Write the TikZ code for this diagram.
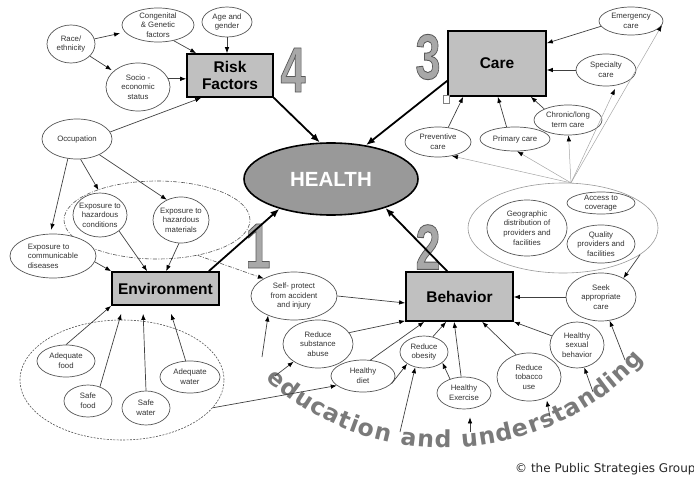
\documentclass[tikz,border=0pt]{standalone}
\usepackage{fontspec}
\setmainfont{Liberation Sans}
\newfontfamily\djv{DejaVu Sans}
\usetikzlibrary{shapes.geometric, arrows.meta, calc, decorations.text}
\definecolor{boxgray}{HTML}{C0C0C0}
\definecolor{healthgray}{HTML}{999999}
\definecolor{ovaltext}{HTML}{333333}
\definecolor{ovalline}{HTML}{555555}
\definecolor{digitgray}{HTML}{A8A8A8}
\definecolor{edugray}{HTML}{7A7A7A}
\newcommand\outlinedigit[1]{\special{pdf:literal q 2 Tr 0.9 w 0.35 0.35 0.35 RG}#1\special{pdf:literal Q}}
\begin{document}
\begin{tikzpicture}[x=1pt,y=-1pt,
  oval/.style={ellipse, draw=ovalline, line width=0.7pt, fill=white, inner sep=-2pt,
    align=center, font=\fontsize{7.8}{9.6}\selectfont, text=ovaltext},
  box/.style={rectangle, draw=black, line width=1.7pt, fill=boxgray, inner sep=0pt,
    align=center, font=\fontsize{15.5}{17}\selectfont\bfseries},
  bigoval/.style={ellipse, draw=black, line width=1.6pt, fill=healthgray, inner sep=0pt,
    font=\fontsize{20.5}{22}\selectfont\bfseries, text=white},
  lightoval/.style={ellipse, draw=black!40, line width=0.6pt, inner sep=0pt},
  dashdotoval/.style={ellipse, draw=ovalline, line width=0.6pt, inner sep=0pt,
    dash pattern=on 4pt off 1.5pt on 1pt off 1.5pt},
  dashedoval/.style={ellipse, draw=ovalline, line width=0.6pt, inner sep=0pt,
    dash pattern=on 2pt off 1.3pt},
  arr/.style={draw=black!75, line width=0.7pt, -{Latex[length=6pt,width=4.5pt,color=black]}},
  heavy/.style={draw=black, line width=1.8pt, -{Latex[length=9pt,width=7pt]}},
  lite/.style={draw=black!35, line width=0.5pt, -{Latex[length=6pt,width=4.5pt,color=black]}},
  dashdotarr/.style={draw=ovalline, line width=0.6pt, dash pattern=on 4pt off 1.5pt on 1pt off 1.5pt,
    -{Latex[length=6pt,width=4.5pt,color=black]}},
  bigdigit/.style={font=\fontsize{64}{64}\selectfont\bfseries, text=digitgray, inner sep=0pt}
]
\useasboundingbox (0,0) rectangle (694,479);

% big digits
\node[bigdigit] (d4) at (293,70) {\scalebox{0.7}[1]{\outlinedigit{4}}};
\node[bigdigit] (d3) at (428,57) {\scalebox{0.7}[1]{\outlinedigit{3}}};
\node[bigdigit] (d2) at (428,247) {\scalebox{0.7}[1]{\outlinedigit{2}}};
\node[bigdigit] (d1) at (258,246) {\scalebox{0.7}[1]{\outlinedigit{1}}};

% containers
\node[dashdotoval, minimum width=186, minimum height=78] (haz) at (157,220) {};
\node[dashedoval, minimum width=204, minimum height=120] (fw) at (122,380) {};
\node[lightoval, minimum width=190, minimum height=90] (access) at (563,228) {};

% risk factors
\node[oval, minimum width=48, minimum height=38] (race) at (71,44) {Race/\\ethnicity};
\node[oval, minimum width=72, minimum height=34, inner sep=-3pt] (cong) at (158,25) {Congenital\\\& Genetic\\factors};
\node[oval, minimum width=50, minimum height=30] (age) at (227,22) {Age and\\gender};
\node[oval, minimum width=64, minimum height=48] (socio) at (138,87) {Socio -\\economic\\status};
\node[oval, minimum width=70, minimum height=40] (occ) at (77,139) {Occupation};
\node[box, minimum width=86, minimum height=43] (risk) at (230,75.5) {Risk\\Factors};

% health
\node[bigoval, minimum width=174, minimum height=72] (health) at (331,179) {HEALTH};

% care
\node[box, minimum width=98, minimum height=65] (care) at (497,63.5) {Care};
\node[draw=black!50, line width=0.5pt, fill=white, minimum width=6, minimum height=8, inner sep=0pt] (sq) at (446,99) {};
\node[oval, minimum width=64, minimum height=28] (emerg) at (631,21) {Emergency\\care};
\node[oval, minimum width=60, minimum height=32] (spec) at (606,70) {Specialty\\care};
\node[oval, minimum width=68, minimum height=30] (chron) at (568,120) {Chronic/long\\term care};
\node[oval, minimum width=70, minimum height=24] (prim) at (515,139) {Primary care};
\node[oval, minimum width=66, minimum height=30] (prev) at (438,142) {Preventive\\care};
\node[oval, minimum width=80, minimum height=56] (geo) at (527,228) {Geographic\\distribution of\\providers and\\facilities};
\node[oval, minimum width=68, minimum height=22] (cov) at (601,203) {Access to\\coverage};
\node[oval, minimum width=68, minimum height=38] (qual) at (601,244) {Quality\\providers and\\facilities};

% behavior
\node[oval, minimum width=70, minimum height=48] (seek) at (601,297) {Seek\\appropriate\\care};
\node[box, minimum width=107, minimum height=49] (behav) at (459.5,296.5) {Behavior};
\node[oval, minimum width=86, minimum height=48] (selfp) at (294,296) {Self- protect\\from accident\\and injury};
\node[oval, minimum width=70, minimum height=48] (subst) at (318,344) {Reduce\\substance\\abuse};
\node[oval, minimum width=64, minimum height=32] (diet) at (363,376) {Healthy\\diet};
\node[oval, minimum width=48, minimum height=32] (obes) at (424,352) {Reduce\\obesity};
\node[oval, minimum width=54, minimum height=32] (exer) at (464,393) {Healthy\\Exercise};
\node[oval, minimum width=64, minimum height=48] (tobac) at (529,377) {Reduce\\tobacco\\use};
\node[oval, minimum width=54, minimum height=46] (sexual) at (577,345) {Healthy\\sexual\\behavior};

% environment
\node[box, minimum width=107, minimum height=33] (env) at (165.5,288.5) {Environment};
\node[oval, minimum width=86, minimum height=44, align=left] (comm) at (53,256) {Exposure to\\communicable\\diseases};
\node[oval, minimum width=54, minimum height=44] (hazc) at (100,215) {Exposure to\\hazardous\\conditions};
\node[oval, minimum width=56, minimum height=46] (hazm) at (181,220) {Exposure to\\hazardous\\materials};
\node[oval, minimum width=58, minimum height=32] (adfood) at (66,361) {Adequate\\food};
\node[oval, minimum width=48, minimum height=32] (sfood) at (88,401) {Safe\\food};
\node[oval, minimum width=48, minimum height=34] (swater) at (146,408) {Safe\\water};
\node[oval, minimum width=60, minimum height=32] (adwater) at (190,377) {Adequate\\water};

% education text
\begin{scope}[x=1pt,y=1pt]
\path[decorate, decoration={text along path, text align={fit to path},
  text={|\djv\bfseries\fontsize{23.5}{25}\selectfont\color{edugray}|education and understanding}}]
  (445,-180) ++(228:268) arc[start angle=228, end angle=318, radius=268];
\end{scope}

\node[font=\djv\fontsize{12}{14}\selectfont, anchor=base west, inner sep=0pt, text=black!85] (copy) at (515,472) {© the Public Strategies Group};

% --- connectors: risk factors
\draw[arr, shorten >=5pt] (race) -- (cong);
\draw[arr, shorten >=2pt] (race) -- (socio);
\draw[arr] (cong.-45) -- ($(risk.north west)+(10,0)$);
\draw[arr] (age.south) -- (age.south |- risk.north);
\draw[arr] (socio.15) -- (risk.west |- socio.15);
\draw[arr] (occ.12) -- ($(risk.south west)+(15,0)$);
\draw[arr, shorten >=4pt] (occ.-115) -- (comm.97);
\draw[arr, shorten >=3pt] (occ.-80) -- (hazc.north);
\draw[arr] (occ.-35) -- (hazm.125);
\draw[dashdotarr] (haz.-41) -- (selfp.150);

% --- heavy arrows to health
\draw[heavy] (risk.south east) -- (health.107);
\draw[heavy] ($(care.south west)+(0,-16)$) -- (health.44);
\draw[heavy] ($(env.north east)+(-11,0)$) -- (health.210.5);
\draw[heavy] ($(behav.north west)+(42,0)$) -- (health.-28);

% --- care
\draw[arr] (emerg.190) -- ($(care.north east)+(0,13)$);
\draw[arr] (spec.west) -- (care.east |- spec.west);
\draw[arr] (chron.155) -- ($(care.south east)+(-16,0)$);
\draw[arr] (prim.125) -- ($(care.south east)+(-49,0)$);
\draw[arr] (prev.55) -- ($(care.south west)+(16,0)$);
\coordinate (apex) at (access.80);
\draw[lite] (apex) -- (prev.-45);
\draw[lite] (apex) -- (prim.-80);
\draw[lite] (apex) -- (chron.-88);
\draw[lite, shorten >=4pt] (apex) -- (spec.-55);
\draw[lite] (apex) -- (emerg.-8);
\draw[arr] (access.-19) -- (seek.40);

% --- behavior
\draw[arr] (seek.west) -- (behav.east |- seek.west);
\draw[arr] (selfp.east) -- ($(behav.west)+(0,6.5)$);
\draw[arr] (subst.20) -- ($(behav.south west)+(0,-1)$);
\draw[arr] (diet.65) -- ($(behav.south west)+(19,0)$);
\draw[arr] (diet.-15) -- (obes.215);
\draw[arr] (obes.60) -- ($(behav.south west)+(41,0)$);
\draw[arr] (exer.100) -- ($(behav.south west)+(49,0)$);
\draw[arr] (exer.135) -- (obes.-30);
\draw[arr] (tobac.120) -- ($(behav.south west)+(77,0)$);
\draw[arr] (sexual.160) -- (behav.south east);

% --- environment
\draw[arr] (comm.-8) -- (env.north west);
\draw[arr] (hazc.-40) -- ($(env.north west)+(36,0)$);
\draw[arr] (hazm.-95) -- ($(env.north west)+(55,0)$);
\draw[arr] (adfood.north) -- (env.south west);
\draw[arr] (sfood.50) -- ($(env.south west)+(10,8)$);
\draw[arr] (swater.north) -- ($(env.south west)+(32,8)$);
\draw[arr] (adwater.105) -- ($(env.south west)+(60,8)$);
\draw[arr] (fw.-17) -- (diet.200);

% --- education arrows
\coordinate (e1) at (262,357);
\coordinate (e2) at (275,376);
\coordinate (e3) at (400,432);
\coordinate (e4) at (470,432);
\coordinate (e5) at (550,417);
\coordinate (e6) at (593,392);
\coordinate (e7) at (625,360);
\draw[arr] (e1) -- (selfp.217);
\draw[arr] (e2) -- (subst.216);
\draw[arr] (e3) -- (obes.240);
\draw[arr, shorten >=8pt] (e4) -- (e4 |- exer.south);
\draw[arr, shorten >=3pt] (e5) -- (tobac.-50);
\draw[arr] (e6) -- (sexual.-72);
\draw[arr] (e7) -- (seek.-70);
\end{tikzpicture}
\end{document}
